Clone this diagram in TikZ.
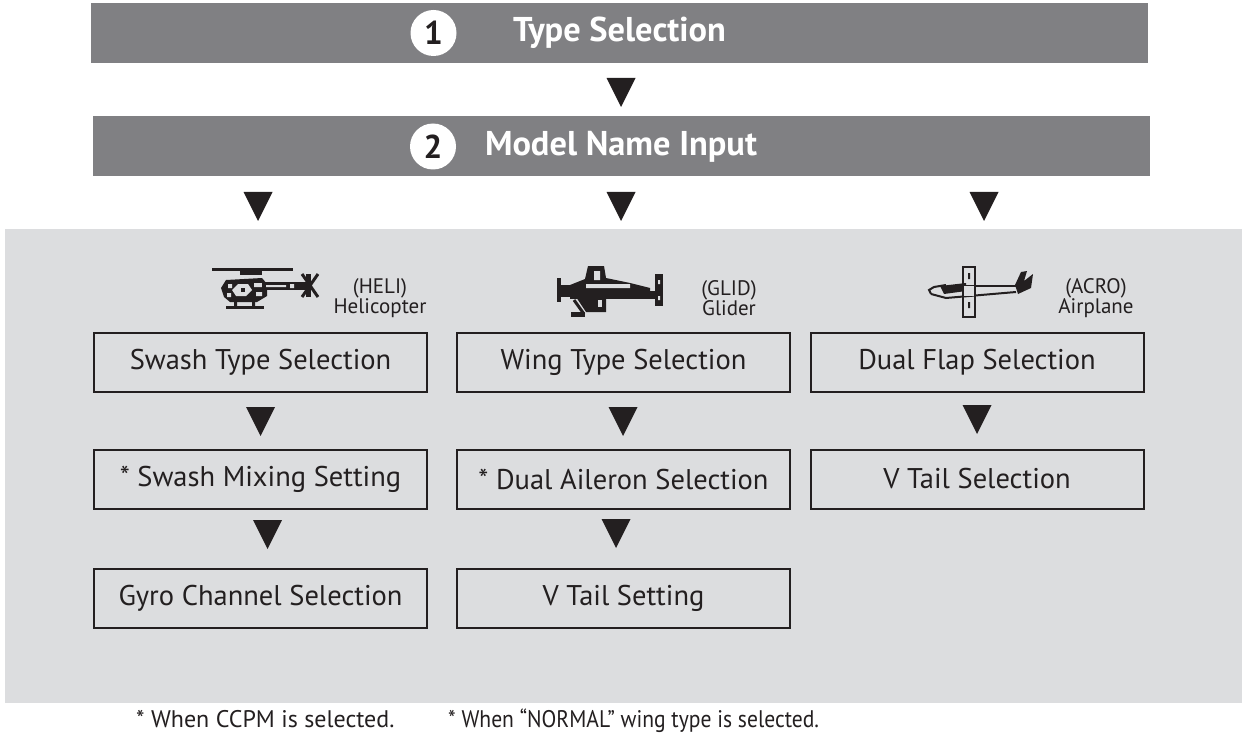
\documentclass[tikz,border=0pt]{standalone}
\usepackage{fontspec}
\setmainfont{PT Sans}
\newfontfamily\narrowfont[FakeStretch=0.9]{PT Sans}
\usetikzlibrary{positioning}
\definecolor{bargray}{HTML}{808083}
\definecolor{panelgray}{HTML}{DCDDDF}
\definecolor{ink}{HTML}{231F20}
\tikzset{
  headbar/.style={fill=bargray, minimum width=1057pt, minimum height=60pt, inner sep=0pt,
    text=white, font=\fontsize{34.4}{36}\selectfont\bfseries},
  stepnum/.style={circle, fill=white, text=ink, minimum size=46pt, inner sep=0pt,
    font=\fontsize{33}{34}\selectfont\bfseries},
  setbox/.style={draw=ink, line width=2pt, fill=panelgray, minimum width=333pt,
    minimum height=59pt, inner sep=0pt, text=ink, font=\fontsize{28.5}{30}\selectfont},
  typelabel/.style={align=center, text=ink, font=\fontsize{21}{20}\selectfont},
  note/.style={anchor=base west, inner sep=0pt, text=ink, font=\fontsize{24}{26}\selectfont},
  hole/.style={fill=panelgray},
}
\begin{document}
\begin{tikzpicture}[x=1pt, y=-1pt]
    \useasboundingbox (0,0) rectangle (1242,738);
    \fill[panelgray] (5,229) rectangle (1242,703);
    % steps 1 and 2
    \node[headbar] (typeBar) at (619.5,33) {Type Selection};
    \node[stepnum] (typeNum) at (433.5,33) {1};
    \node[headbar] (nameBar) at (621,146.5) {Model Name Input};
    \node[stepnum] (nameNum) at (433,146.5) {2};
    % setting boxes
    \node[setbox] (swashType) at (260.5,362.5) {Swash Type Selection};
    \node[setbox] (swashMix) at (260.5,479) {* Swash Mixing Setting};
    \node[setbox] (gyroCh) at (260.5,598.5) {Gyro Channel Selection};
    \node[setbox] (wingType) at (623.5,362.5) {Wing Type Selection};
    \node[setbox] (dualAil) at (623.5,479) {* Dual Aileron Selection};
    \node[setbox] (vTailSet) at (623.5,598.5) {V Tail Setting};
    \node[setbox] (dualFlap) at (977,362.5) {Dual Flap Selection};
    \node[setbox] (vTailSel) at (977,479) {V Tail Selection};
    % down markers
    \foreach \x/\y in {621/78, 258/192, 621/192, 984/192, 260.5/407, 267.5/520,
                       623/407, 616/519, 977/405}
        \fill[ink] ({\x-14.5},\y) -- ({\x+14.5},\y) -- (\x,{\y+29}) -- cycle;
    % model types
    \node[typelabel] (heliLabel) at (380,298) {(HELI)\\Helicopter};
    \node[typelabel] (glidLabel) at (729,298) {(GLID)\\Glider};
    \node[typelabel] (acroLabel) at (1096,298) {(ACRO)\\Airplane};
    % helicopter icon
    \fill[ink] (212,268) rectangle (293,271);
    \fill[ink] (240,271) rectangle (262,275);
    \fill[ink] (226,280) -- (262,278) -- (267,284) -- (267,296) -- (257,302)
        -- (230,302) -- (224,297) -- (221,288) -- cycle;
    \fill[hole] (238,284) -- (248,284) -- (252,290) -- (246,296) -- (236,296)
        -- (232,290) -- cycle;
    \fill[hole] (228,284) rectangle (232,288) (254,283) rectangle (262,287)
        (256,292) rectangle (262,296) (227,293) rectangle (231,297);
    \fill[ink] (241,288) rectangle (245,292);
    \fill[ink] (262,282) rectangle (306,290);
    \fill[hole] (266,285) rectangle (286,287) (290,284) rectangle (294,288);
    \fill[ink] (306,274) rectangle (311,297);
    \draw[ink, line width=3pt] (302,274) -- (318,297) (318,274) -- (302,297);
    \fill[ink] (234,302) rectangle (237,306) (252,302) rectangle (255,306);
    \fill[ink] (226,306) rectangle (264,309);
    % glider icon
    \fill[ink] (557,278) rectangle (561,302);
    \fill[ink] (561,285) rectangle (572,297);
    \fill[ink] (570,285) -- (585,279) -- (588,266) -- (604,266) -- (606,278)
        -- (630,283) -- (650,288) -- (650,292) -- (570,297) -- cycle;
    \fill[hole] (594,271) rectangle (600,280) (586,284) rectangle (630,288);
    \fill[ink] (570,291) rectangle (658,299);
    \fill[ink] (576,297) -- (606,297) -- (606,312) -- (586,312) -- cycle;
    \fill[hole] (598,300) rectangle (602,307);
    \fill[ink] (655,274) rectangle (663,306);
    \fill[hole] (658,280) rectangle (660,284) (658,296) rectangle (660,300);
    \draw[ink, line width=3pt] (574,300) -- (584,314);
    \fill[ink] (571,312) rectangle (585,317);
    % airplane icon
    \fill[ink] (940,286) -- (966,283) -- (966,291) -- (944,294) -- cycle;
    \draw[ink, line width=2pt] (931,294) -- (929,290) -- (934,287) -- (946,285);
    \draw[ink, line width=2pt] (931,294) -- (946,298) -- (1016,292);
    \draw[ink, line width=2pt] (966,286) -- (1018,286);
    \draw[ink, line width=2pt] (963,267) rectangle (975,317);
    \fill[panelgray] (964,286) rectangle (974,296);
    \draw[ink, line width=2pt] (963,286) -- (963,296) (975,286) -- (975,296);
    \fill[ink] (968,273) rectangle (970,279) (968,302) rectangle (970,308);
    \fill[ink] (1015,285) -- (1021,272) -- (1027,271) -- (1024,281) -- (1033,274)
        -- (1031,288) -- (1018,294) -- cycle;
    % footnotes
    \node[note] (ccpmNote) at (136,727) {* When CCPM is selected.};
    \node[note] (normalNote) at (448,727) {\narrowfont * When “NORMAL” wing type is selected.};
\end{tikzpicture}
\end{document}
